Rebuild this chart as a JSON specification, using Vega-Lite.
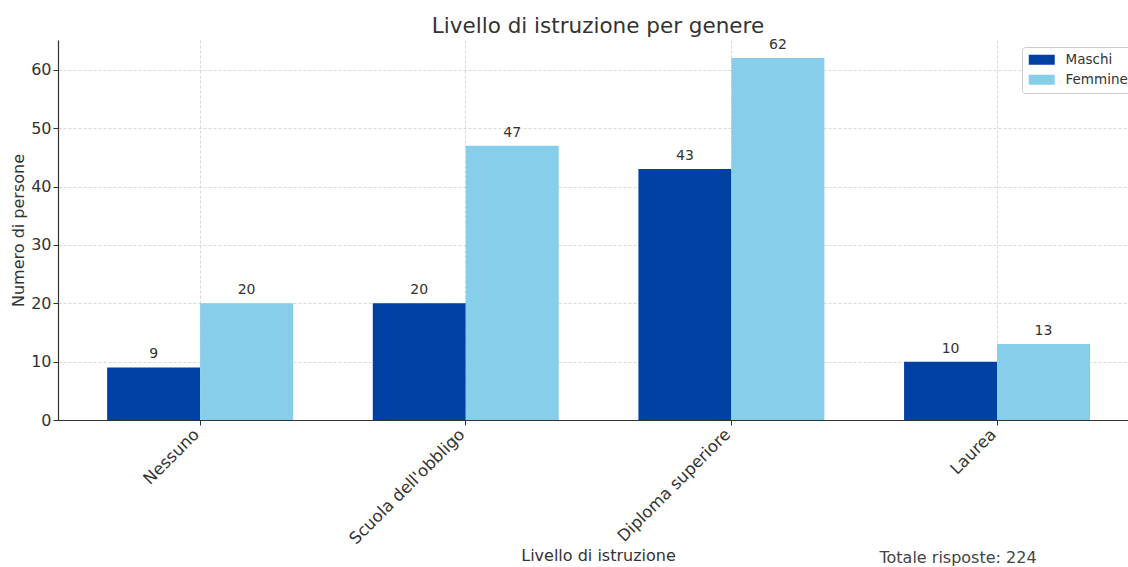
{
  "$schema": "https://vega.github.io/schema/vega-lite/v6.json",
  "autosize": {"type": "none"},
  "padding": {"left": 58, "top": 40, "right": 0, "bottom": 147},
  "width": 1070,
  "height": 380,
  "background": "white",
  "config": {
    "font": "DejaVu Sans",
    "view": {"stroke": null},
    "axis": {
      "labelFont": "DejaVu Sans",
      "titleFont": "DejaVu Sans",
      "labelColor": "#333333",
      "titleColor": "#333333",
      "titleFontWeight": "normal",
      "domainColor": "#333333",
      "tickColor": "#333333",
      "gridColor": "#a0a0a0",
      "gridOpacity": 0.5,
      "gridDash": [3, 2],
      "gridWidth": 0.8,
      "zindex": 1
    }
  },
  "title": {
    "text": "Livello di istruzione per genere",
    "font": "DejaVu Sans",
    "fontSize": 21.5,
    "fontWeight": "normal",
    "color": "#333333",
    "anchor": "middle",
    "dx": 5,
    "offset": 1
  },
  "datasets": {
    "risposte": [
      {"livello": "Nessuno", "genere": "Maschi", "persone": 9},
      {"livello": "Nessuno", "genere": "Femmine", "persone": 20},
      {"livello": "Scuola dell'obbligo", "genere": "Maschi", "persone": 20},
      {"livello": "Scuola dell'obbligo", "genere": "Femmine", "persone": 47},
      {"livello": "Diploma superiore", "genere": "Maschi", "persone": 43},
      {"livello": "Diploma superiore", "genere": "Femmine", "persone": 62},
      {"livello": "Laurea", "genere": "Maschi", "persone": 10},
      {"livello": "Laurea", "genere": "Femmine", "persone": 13}
    ],
    "nota": [
      {"livello": "Laurea", "persone": -23.7, "testo": "Totale risposte: 224"}
    ]
  },
  "layer": [
    {
      "data": {"name": "risposte"},
      "mark": {"type": "bar"},
      "encoding": {
        "x": {
          "field": "livello",
          "type": "nominal",
          "sort": null,
          "scale": {
            "domain": ["Nessuno", "Scuola dell'obbligo", "Diploma superiore", "Laurea"],
            "paddingInner": 0.3,
            "paddingOuter": 0.164,
            "align": 0.564
          },
          "axis": {
            "title": "Livello di istruzione",
            "titleFontSize": 16,
            "titleX": 540,
            "titleY": 135,
            "titleBaseline": "middle",
            "labelFontSize": 16.5,
            "labelAngle": -45,
            "labelAlign": "right",
            "labelBaseline": "alphabetic",
            "labelPadding": 10,
            "labelDx": -4,
            "tickSize": 5,
            "bandPosition": 0.5,
            "grid": true,
            "domainWidth": 1.2
          }
        },
        "xOffset": {
          "field": "genere",
          "type": "nominal",
          "sort": null,
          "scale": {"domain": ["Maschi", "Femmine"], "paddingInner": 0, "paddingOuter": 0}
        },
        "y": {
          "field": "persone",
          "type": "quantitative",
          "scale": {"domain": [0, 65.1], "nice": false},
          "axis": {
            "title": "Numero di persone",
            "titleFontSize": 16,
            "titlePadding": 4,
            "labelFontSize": 16,
            "values": [0, 10, 20, 30, 40, 50, 60],
            "tickSize": 5,
            "grid": true,
            "domainWidth": 1.2
          }
        },
        "color": {
          "field": "genere",
          "type": "nominal",
          "sort": null,
          "scale": {"domain": ["Maschi", "Femmine"], "range": ["#0040A3", "#87CEEB"]},
          "legend": {
            "title": null,
            "orient": "none",
            "legendX": 964,
            "legendY": 7,
            "labelFont": "DejaVu Sans",
            "labelFontSize": 13.5,
            "labelColor": "#333333",
            "labelOffset": 17,
            "symbolType": "M-2,-0.77H2V0.77H-2Z",
            "symbolSize": 169,
            "symbolOffset": 7,
            "symbolStrokeWidth": 0,
            "symbolOpacity": 1,
            "rowPadding": 5,
            "strokeColor": "#cccccc",
            "fillColor": "white",
            "padding": 6,
            "cornerRadius": 3,
            "zindex": 2
          }
        }
      }
    },
    {
      "data": {"name": "risposte"},
      "mark": {"type": "text", "baseline": "bottom", "dy": -6, "fontSize": 14, "color": "#333333"},
      "encoding": {
        "x": {"field": "livello", "type": "nominal", "sort": null},
        "xOffset": {"field": "genere", "type": "nominal", "sort": null},
        "y": {"field": "persone", "type": "quantitative"},
        "text": {"field": "persone", "type": "quantitative"}
      }
    },
    {
      "data": {"name": "nota"},
      "mark": {"type": "text", "fontSize": 16, "color": "#444444", "align": "center", "baseline": "middle", "dx": -39},
      "encoding": {
        "x": {"field": "livello", "type": "nominal", "sort": null},
        "y": {"field": "persone", "type": "quantitative"},
        "text": {"field": "testo", "type": "nominal"}
      }
    }
  ]
}
